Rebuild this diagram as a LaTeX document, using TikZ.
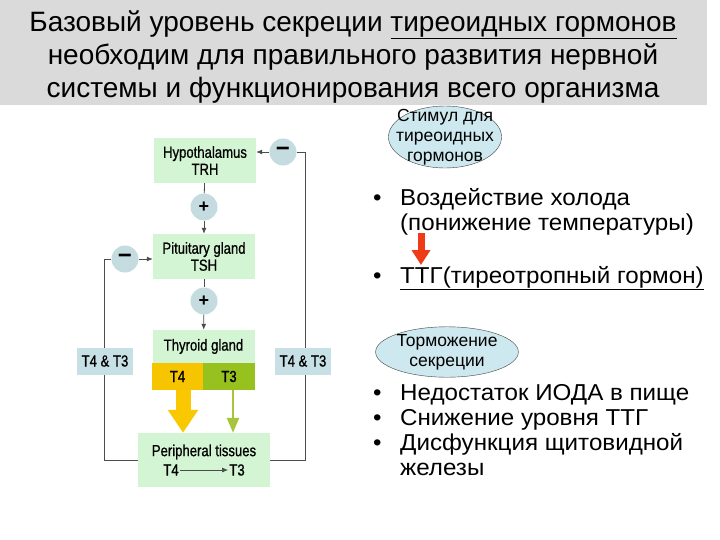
\documentclass[tikz,border=0pt]{standalone}
\usepackage{fontspec}
\setmainfont{Liberation Sans}
\newfontfamily\narrowfont[FakeStretch=0.82, FakeBold=0.8]{Liberation Sans}
\newfontfamily\widefont[FakeStretch=1.05]{Liberation Sans}
\usetikzlibrary{arrows.meta, positioning, shapes.geometric}

\definecolor{bandgray}{RGB}{218,218,218}
\definecolor{boxgreen}{RGB}{212,245,212}
\definecolor{signblue}{RGB}{196,220,223}
\definecolor{tagblue}{RGB}{199,224,230}
\definecolor{ovalblue}{RGB}{205,232,238}
\definecolor{tfour}{RGB}{247,196,0}
\definecolor{tthree}{RGB}{150,193,31}
\definecolor{arrowyellow}{RGB}{250,200,0}
\definecolor{arrowgreen}{RGB}{168,196,58}
\definecolor{arrowred}{RGB}{238,58,23}

\newcommand{\dfont}{\narrowfont\fontsize{16}{17}\selectfont}
\newcommand{\bul}{\makebox[27pt][l]{\textbullet}}

\tikzset{
  gbox/.style={fill=boxgreen, minimum width=102pt, minimum height=45pt, align=center, inner sep=1pt, font=\dfont},
  sign/.style={circle, fill=signblue, minimum size=27pt, inner sep=0pt, font=\fontsize{18}{18}\selectfont\bfseries},
  tag/.style={fill=tagblue, minimum width=56pt, minimum height=27pt, inner sep=1pt, font=\dfont},
  oval/.style={ellipse, draw=black!75, fill=ovalblue, inner sep=0pt, align=center, font=\fontsize{17.5}{20}\selectfont},
  fb/.style={draw=black!70, line width=0.8pt},
  bullets/.style={anchor=north west, align=left, inner sep=0pt, font=\widefont\fontsize{23}{25}\selectfont},
}

\begin{document}
\begin{tikzpicture}[x=1pt, y=-1pt, >={Latex[length=6pt,width=5pt]}]
\useasboundingbox (0,0) rectangle (720,540);

% title band
\fill[bandgray] (0,0) rectangle (707,105);
\node[align=center, font=\fontsize{28}{33}\selectfont] (title) at (353,57)
  {Базовый уровень секреции \underline{тиреоидных гормонов}\\
   необходим для правильного развития нервной\\
   системы и функционирования всего организма};

% feedback axis
\node[gbox] (hyp) at (205,160.5) {Hypothalamus\\TRH};
\node[sign] (p1) at (204,207) {+};
\node[gbox] (pit) at (204,256.5) {Pituitary gland\\TSH};
\node[sign] (p2) at (204,301) {+};
\node[gbox, minimum height=33pt] (thy) at (203.5,346.5) {Thyroid gland};
\node[fill=tfour, minimum width=51pt, minimum height=27pt, inner sep=0pt, font=\dfont] (t4) at (177.5,376.5) {T4};
\node[fill=tthree, minimum width=52pt, minimum height=27pt, inner sep=0pt, font=\dfont] (t3) at (229,376.5) {T3};
\node[gbox, minimum width=132pt, minimum height=54pt] (per) at (204,460) {};
\node[font=\dfont, inner sep=0pt] (pername) at (204,452) {Peripheral tissues};
\node[font=\dfont, inner sep=1pt] (pt4) at (171,470) {T4};
\node[font=\dfont, inner sep=1pt] (pt3) at (237,470) {T3};

\node[sign, font=\fontsize{24}{24}\selectfont\bfseries] (m1) at (283,152) {−};
\node[sign, font=\fontsize{24}{24}\selectfont\bfseries] (m2) at (125,259) {−};

\coordinate (rt) at (305,152);
\coordinate (rb) at (305,460);
\coordinate (lt) at (104,259);
\coordinate (lb) at (104,460);

\draw[fb] (hyp) -- (p1);
\draw[fb, ->] (p1) -- (pit);
\draw[fb] (pit) -- (p2);
\draw[fb, ->] (p2) -- (thy);
\draw[fb, ->] (m1) -- (m1 -| hyp.east);
\draw[fb, ->] (m2) -- (m2 -| pit.west);
\draw[fb] (m1) -- (rt) -- (rb) -- (per.east);
\draw[fb] (m2) -- (lt) -- (lb) -- (per.west);
\draw[fb, ->] (pt4) -- (pt3);

\draw[arrowyellow, line width=15pt, -{Triangle[length=23pt, width=29pt]}] (t4.south -| 183,0) -- (per.north -| 183,0);
\draw[arrowgreen, line width=2.5pt, -{Triangle[length=15pt, width=12pt]}] (t3.south -| 233,0) -- (per.north -| 233,0);

\node[tag] (ltag) at (105,361) {T4 \& T3};
\node[tag] (rtag) at (303,361) {T4 \& T3};

% right column
\node[oval, inner xsep=-9pt, inner ysep=-6pt] (stim) at (445,137)
  {Стимул для\\тиреоидных\\гормонов};
\node[bullets] (cold) at (373,188)
  {\bul Воздействие холода\\\hspace*{27pt}(понижение температуры)};
\coordinate (ra) at (421,233);
\coordinate (rz) at (421,265);
\draw[arrowred, line width=7pt, -{Triangle[length=15pt, width=18pt]}] (ra) -- (rz);
\node[bullets] (ttg) at (373,266) {\bul\underline{ТТГ(тиреотропный гормон)}};

\node[oval, minimum width=142pt, minimum height=49pt] (inh) at (447,352)
  {Торможение\\секреции};
\node[bullets] (lack) at (373,384)
  {\bul Недостаток ИОДА в пище\\
   \bul Снижение уровня ТТГ\\
   \bul Дисфункция щитовидной\\
   \hspace*{27pt}железы};
\end{tikzpicture}
\end{document}
